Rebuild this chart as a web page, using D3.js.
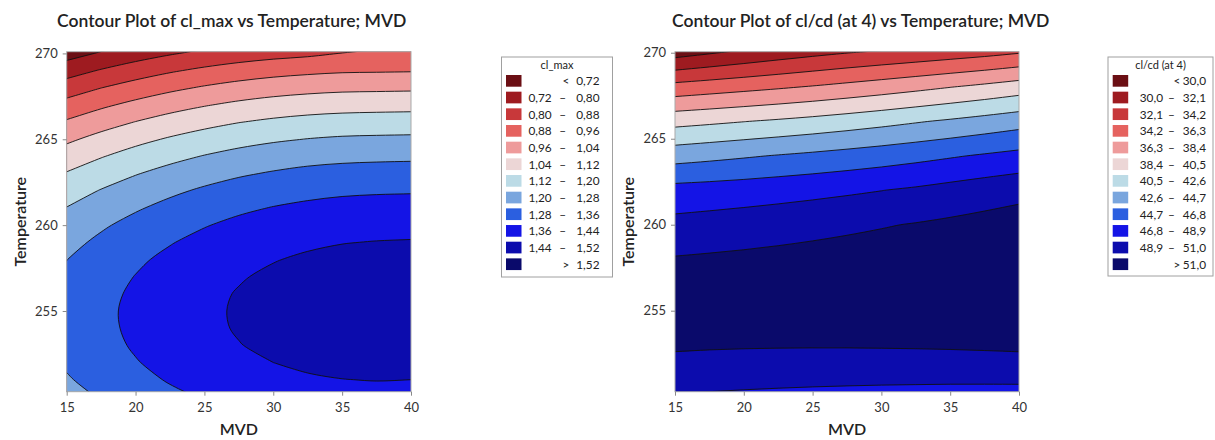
<!DOCTYPE html>
<html>
<head>
<meta charset="utf-8">
<script src="https://cdn.jsdelivr.net/npm/d3@7"></script>
<style>
    body { margin: 0; background: #fff; }
    svg text { font-family: "Segoe UI", Lato, "Noto Sans", sans-serif; fill: #222; }
</style>
</head>
<body>
<svg width="1215" height="440"></svg>
<script>
// MVD columns both surfaces were read on
const mvd = [15, 17.5, 20, 22.5, 25, 27.5, 30, 32.5, 35, 37.5, 40]

// cl_max: rows every 1 K from 250 to 270 (bottom row first)
const clMaxTemperature = [250, 251, 252, 253, 254, 255, 256, 257, 258, 259, 260,
    261, 262, 263, 264, 265, 266, 267, 268, 269, 270]
const clMax = [
    [1.251, 1.286, 1.317, 1.344, 1.366, 1.385, 1.399, 1.409, 1.415, 1.417, 1.415],
    [1.273, 1.308, 1.339, 1.366, 1.389, 1.408, 1.422, 1.433, 1.439, 1.442, 1.440],
    [1.290, 1.325, 1.356, 1.383, 1.407, 1.426, 1.440, 1.451, 1.458, 1.461, 1.459],
    [1.301, 1.336, 1.368, 1.395, 1.419, 1.438, 1.453, 1.464, 1.471, 1.475, 1.473],
    [1.307, 1.343, 1.374, 1.402, 1.426, 1.445, 1.461, 1.472, 1.479, 1.483, 1.482],
    [1.308, 1.344, 1.376, 1.403, 1.427, 1.447, 1.463, 1.474, 1.482, 1.486, 1.485],
    [1.303, 1.339, 1.372, 1.400, 1.424, 1.444, 1.459, 1.471, 1.479, 1.483, 1.483],
    [1.294, 1.330, 1.362, 1.390, 1.415, 1.435, 1.451, 1.463, 1.471, 1.475, 1.475],
    [1.279, 1.315, 1.348, 1.376, 1.401, 1.421, 1.437, 1.449, 1.457, 1.461, 1.461],
    [1.258, 1.295, 1.328, 1.356, 1.381, 1.401, 1.418, 1.430, 1.438, 1.442, 1.444],
    [1.233, 1.270, 1.303, 1.332, 1.356, 1.377, 1.393, 1.405, 1.414, 1.418, 1.420],
    [1.202, 1.239, 1.272, 1.301, 1.326, 1.347, 1.363, 1.375, 1.384, 1.388, 1.389],
    [1.166, 1.204, 1.237, 1.266, 1.291, 1.312, 1.328, 1.340, 1.348, 1.352, 1.354],
    [1.125, 1.163, 1.196, 1.225, 1.250, 1.271, 1.287, 1.300, 1.308, 1.311, 1.313],
    [1.078, 1.116, 1.150, 1.179, 1.204, 1.225, 1.242, 1.254, 1.261, 1.265, 1.267],
    [1.026, 1.065, 1.099, 1.128, 1.153, 1.174, 1.190, 1.202, 1.210, 1.213, 1.215],
    [0.969, 1.008, 1.042, 1.072, 1.097, 1.118, 1.134, 1.146, 1.153, 1.156, 1.158],
    [0.907, 0.946, 0.980, 1.010, 1.035, 1.056, 1.072, 1.083, 1.090, 1.093, 1.095],
    [0.839, 0.879, 0.913, 0.943, 0.968, 0.989, 1.005, 1.016, 1.023, 1.025, 1.027],
    [0.766, 0.806, 0.841, 0.871, 0.896, 0.916, 0.932, 0.943, 0.951, 0.953, 0.955],
    [0.688, 0.728, 0.763, 0.793, 0.818, 0.839, 0.854, 0.865, 0.882, 0.892, 0.895]
]

// cl/cd (at 4): rows every 2 K from 250 to 270
const clcdTemperature = [250, 252, 254, 256, 258, 260, 262, 264, 266, 268, 270]
const clcd = [
    [48.75, 48.61, 48.49, 48.38, 48.28, 48.20, 48.13, 48.08, 48.03, 48.01, 48.00],
    [50.68, 50.60, 50.54, 50.49, 50.46, 50.43, 50.42, 50.42, 50.43, 50.46, 50.50],
    [51.72, 51.71, 51.71, 51.73, 51.75, 51.79, 51.84, 51.89, 51.96, 52.04, 52.14],
    [51.87, 51.93, 52.00, 52.08, 52.17, 52.27, 52.38, 52.50, 52.63, 52.77, 52.92],
    [51.14, 51.27, 51.40, 51.55, 51.71, 51.88, 52.05, 52.24, 52.44, 52.64, 52.86],
    [49.52, 49.72, 49.93, 50.14, 50.37, 50.61, 50.86, 51.11, 51.38, 51.66, 51.94],
    [47.54, 47.69, 47.87, 48.09, 48.33, 48.59, 48.87, 49.20, 49.60, 50.00, 50.37],
    [43.84, 44.16, 44.49, 44.82, 45.13, 45.47, 45.82, 46.20, 46.61, 47.02, 47.42],
    [39.85, 40.15, 40.47, 40.80, 41.16, 41.56, 41.99, 42.45, 42.90, 43.38, 43.88],
    [34.95, 35.33, 35.70, 36.07, 36.47, 36.91, 37.37, 37.86, 38.37, 38.88, 39.44],
    [29.16, 29.82, 30.45, 31.05, 31.58, 32.05, 32.45, 32.82, 33.21, 33.62, 34.11]
]

const clMaxLevels = [0.72, 0.80, 0.88, 0.96, 1.04, 1.12, 1.20, 1.28, 1.36, 1.44, 1.52]
const clcdLevels = [30.0, 32.1, 34.2, 36.3, 38.4, 40.5, 42.6, 44.7, 46.8, 48.9, 51.0]

const mvdTicks = [15, 20, 25, 30, 35, 40]
const temperatureTicks = [255, 260, 265, 270]

const palette = ['#6b0f14', '#9e1b20', '#c8383a', '#e5625f', '#ee9b9b', '#ecd6d6',
    '#bcdbe6', '#7aa6de', '#2b5fe0', '#1414e6', '#0c0cad', '#0a0a6b']

const panels = [
    {
        title: 'Contour Plot of cl_max vs Temperature; MVD', titleX: 57,
        values: clMax, temps: clMaxTemperature, levels: clMaxLevels, digits: 2, legendTitle: 'cl_max',
        left: 66.7, right: 411, tDomain: [250.3, 270.1], yLabelX: 26,
        legend: { x: 501.5, y: 57, w: 111, h: 220, swatch: 506, num1: 551.7, dash: 562.7, num2: 599.5, lt: 566 }
    },
    {
        title: 'Contour Plot of cl/cd (at 4) vs Temperature; MVD', titleX: 672,
        values: clcd, temps: clcdTemperature, levels: clcdLevels, digits: 1, legendTitle: 'cl/cd (at 4)',
        left: 675, right: 1019, tDomain: [250.29, 270.06], yLabelX: 634,
        legend: { x: 1108, y: 57, w: 105, h: 219, swatch: 1112.7, num1: 1163, dash: 1171.5, num2: 1206, lt: 1177 }
    }
]

const
    svg = d3.select('svg'),
    plotTop = 51.7,
    plotBottom = 391.7,
    smooth = d3.line().curve(d3.curveCatmullRomClosed.alpha(0.5))

panels.forEach(draw)

// points d3.contours puts on the outer grid border would bend the smoothed
// curve near the plot edge; push them out along the contour's own direction
function straightenBorder(pts, n, m) {
    const L = pts.length
    const onBorder = p => p[0] <= 0 || p[0] >= n || p[1] <= 0 || p[1] >= m
    const out = pts.map(p => p.slice())
    pts.forEach((p, k) => {
        if (!onBorder(p)) return
        ;[-1, 1].forEach(dir => {
            const q = pts[(k + dir + L) % L], r = pts[(k + 2 * dir + L) % L]
            if (onBorder(q) || onBorder(r)) return
            const vx = q[0] - r[0], vy = q[1] - r[1]
            let t
            if (p[0] >= n && vx > 0) t = (n - q[0]) / vx
            else if (p[0] <= 0 && vx < 0) t = -q[0] / vx
            else if (p[1] >= m && vy > 0) t = (m - q[1]) / vy
            else if (p[1] <= 0 && vy < 0) t = -q[1] / vy
            if (t !== undefined) out[k] = [q[0] + vx * t, q[1] + vy * t]
        })
    })
    return out
}

function draw(p, i) {
    const x = d3.scaleLinear().domain([15, 40]).range([p.left, p.right])
    const y = d3.scaleLinear().domain(p.tDomain).range([plotBottom, plotTop])

    const g = svg.append('g')

    g.append('clipPath').attr('id', 'clip' + i)
        .append('rect')
        .attr('x', p.left).attr('y', plotTop)
        .attr('width', p.right - p.left).attr('height', plotBottom - plotTop)

    // contours on the grid, grid coords mapped back to MVD / temperature
    const n = mvd.length, m = p.temps.length
    const dx = mvd[1] - mvd[0], dt = p.temps[1] - p.temps[0]
    const bands = d3.contours().size([n, m]).thresholds(p.levels)(p.values.flat())

    const toPx = ([cx, cy]) => [x(mvd[0] + (cx - 0.5) * dx), y(p.temps[0] + (cy - 0.5) * dt)]

    const path = geom => geom.coordinates.map(poly => poly.map(ring => {
        let pts = ring
        const a = ring[0], b = ring[ring.length - 1]
        if (a[0] === b[0] && a[1] === b[1]) pts = ring.slice(0, -1)
        return smooth(straightenBorder(pts, n, m).map(toPx))
    }).join('')).join('')

    const plot = g.append('g').attr('clip-path', `url(#clip${i})`)

    plot.append('rect')
        .attr('x', p.left).attr('y', plotTop)
        .attr('width', p.right - p.left).attr('height', plotBottom - plotTop)
        .attr('fill', palette[0])

    plot.selectAll('path.band')
        .data(bands)
        .join('path')
        .attr('class', 'band')
        .attr('d', path)
        .attr('fill-rule', 'evenodd')
        .attr('fill', (d, j) => palette[j + 1])

    plot.selectAll('path.line')
        .data(bands)
        .join('path')
        .attr('class', 'line')
        .attr('d', path)
        .attr('fill', 'none')
        .attr('stroke', '#111')
        .attr('stroke-width', 0.9)

    g.append('rect')
        .attr('x', p.left).attr('y', plotTop)
        .attr('width', p.right - p.left).attr('height', plotBottom - plotTop)
        .attr('fill', 'none')
        .attr('stroke', '#a9a9a9')

    // axes
    g.append('g')
        .attr('transform', `translate(0,${plotBottom})`)
        .call(d3.axisBottom(x).tickValues(mvdTicks).tickSize(4).tickSizeOuter(0).tickPadding(7))
        .call(styleAxis)

    g.append('g')
        .attr('transform', `translate(${p.left},0)`)
        .call(d3.axisLeft(y).tickValues(temperatureTicks).tickSize(4).tickSizeOuter(0).tickPadding(5))
        .call(styleAxis)

    g.append('text')
        .attr('x', (p.left + p.right) / 2).attr('y', 435)
        .attr('text-anchor', 'middle')
        .attr('font-size', 16).attr('font-weight', 600)
        .text('MVD')

    g.append('text')
        .attr('transform', `translate(${p.yLabelX},${(plotTop + plotBottom) / 2}) rotate(-90)`)
        .attr('text-anchor', 'middle')
        .attr('font-size', 16).attr('font-weight', 600)
        .text('Temperature')

    g.append('text')
        .attr('x', p.titleX).attr('y', 27)
        .attr('font-size', 17.5).attr('font-weight', 600)
        .text(p.title)

    drawLegend(g, p)
}

function styleAxis(a) {
    a.select('.domain').remove()
    a.attr('font-size', 13)
    a.selectAll('.tick line').attr('stroke', '#888')
    a.selectAll('.tick text').style('fill', '#333')
}

function drawLegend(g, p) {
    const L = p.legend
    const fmt = v => v.toFixed(p.digits).replace('.', ',')
    const lv = p.levels

    const rows = palette.map((c, k) => {
        if (k === 0) return { color: c, sign: '<', a: null, b: fmt(lv[0]) }
        if (k === palette.length - 1) return { color: c, sign: '>', a: null, b: fmt(lv[lv.length - 1]) }
        return { color: c, sign: null, a: fmt(lv[k - 1]), b: fmt(lv[k]) }
    })

    const leg = g.append('g')

    leg.append('rect')
        .attr('x', L.x).attr('y', L.y).attr('width', L.w).attr('height', L.h)
        .attr('fill', '#fff').attr('stroke', '#a0a0a0')

    leg.append('text')
        .attr('x', L.x + L.w / 2).attr('y', L.y + 12)
        .attr('text-anchor', 'middle').attr('font-size', 11)
        .text(p.legendTitle)

    const pitch = 16.67, y0 = L.y + 18

    const row = leg.selectAll('g.row')
        .data(rows)
        .join('g')
        .attr('class', 'row')
        .attr('transform', (d, k) => `translate(0,${y0 + k * pitch})`)

    row.append('rect')
        .attr('x', L.swatch).attr('width', 15.5).attr('height', 11.7)
        .attr('fill', d => d.color)

    row.append('text')
        .attr('x', L.num2).attr('y', 10.3)
        .attr('text-anchor', 'end').attr('font-size', 11.8)
        .text(d => d.b)

    row.filter(d => d.sign)
        .append('text')
        .attr('x', L.lt).attr('y', 10.3)
        .attr('text-anchor', 'middle').attr('font-size', 11.8)
        .text(d => d.sign)

    row.filter(d => d.a)
        .append('text')
        .attr('x', L.num1).attr('y', 10.3)
        .attr('text-anchor', 'end').attr('font-size', 11.8)
        .text(d => d.a)

    row.filter(d => d.a)
        .append('text')
        .attr('x', L.dash).attr('y', 10.3)
        .attr('text-anchor', 'middle').attr('font-size', 11.8)
        .text('–')
}
</script>
</body>
</html>
